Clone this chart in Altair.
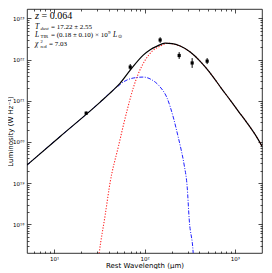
import math
import altair as alt
import pandas as pd

# ---------------- data ----------------
# total model (black solid)
tot_lam = [5.0, 11.65, 32.3, 45.0, 53.8, 69.5, 96.8, 115.6, 138, 169, 203, 249,
           321, 414, 480, 577, 706, 889, 1091, 1371, 1683, 2000]
tot_L = [2.75e19, 1.36e20, 9.3e20, 1.82e21, 2.70e21, 5.57e21, 1.29e22, 1.75e22,
         2.13e22, 2.52e22, 2.46e22, 2.14e22, 1.53e22, 9.1e21, 6.3e21, 3.78e21,
         2.04e21, 1.04e21, 5.64e20, 2.88e20, 1.5e20, 7.9e19]

# cold dust modified blackbody (red dotted)
mbb_lam = [29.9, 31.5, 36.7, 41.7, 51.2, 64.3, 75.0, 85.1, 101.8, 121.7, 149.2,
           183, 219, 249, 321, 414, 480, 577, 706, 889, 1091, 1371, 1683, 2000]
mbb_L = [7.7e16, 2.0e17, 1.67e18, 1.06e19, 7.5e19, 5.96e20, 2.04e21, 4.46e21,
         9.75e21, 1.61e22, 2.13e22, 2.50e22, 2.33e22, 2.12e22, 1.52e22, 9.1e21,
         6.3e21, 3.78e21, 2.04e21, 1.04e21, 5.64e20, 2.88e20, 1.5e20, 7.9e19]

# warm / power-law component (blue dash-dot)
pl_lam = [5.0, 11.65, 32.3, 45.0, 51.2, 58.1, 75.0, 96.8, 121.7, 149.2, 178, 208,
          236, 255, 275, 297, 313, 346, 355]
pl_L = [2.75e19, 1.36e20, 9.3e20, 1.82e21, 2.28e21, 2.85e21, 3.57e21, 3.77e21,
        3.19e21, 2.16e21, 1.16e21, 4.03e20, 1.32e20, 6.35e19, 2.75e19, 8.0e18,
        1.27e18, 2.0e17, 7.7e16]

# photometry with errors
obs_lam = [22.6, 69.5, 149, 242, 337, 494]
obs_L = [5.0e20, 6.6e21, 3.0e22, 1.26e22, 8.3e21, 9.2e21]
obs_lo = [4.6e20, 5.6e21, 2.55e22, 1.04e22, 6.3e21, 7.8e21]
obs_hi = [5.5e20, 7.8e21, 3.5e22, 1.52e22, 1.09e22, 1.09e22]

# axes
x_major = [10, 100, 1000]
x_major_labels = ["10¹", "10²", "10³"]
x_minor = [m * 10 ** e for e in (0, 1, 2) for m in range(2, 10)
           if 5 < m * 10 ** e < 2000]
y_major = [1e18, 1e19, 1e20, 1e21, 1e22, 1e23]
y_major_labels = ["10¹⁸", "10¹⁹", "10²⁰", "10²¹", "10²²", "10²³"]
y_minor = [m * 10.0 ** e for e in range(17, 23) for m in range(2, 10)
           if 2e17 < m * 10.0 ** e < 1.7e23]

x_title = "Rest Wavelength (μm)"
y_title = "Luminosity (W Hz⁻¹)"

ann_z = ["z", "= 0.064"]
ann_t = ["T", "dust", "= 17.22 ± 2.55"]
ann_l = ["L", "TIR", "= (0.18 ± 0.10) × 10", "9", "L", "⊙"]
ann_c = ["χ", "2", "red", "= 7.03"]

# ---------------- chart ----------------
SANS = "DejaVu Sans"
SERIF = "Liberation Serif"
W, H = 235, 244

xscale = alt.Scale(type="log", domain=[5, 2000], nice=False)
yscale = alt.Scale(type="log", domain=[2e17, 1.7e23], nice=False)


def label_expr(values, labels):
    parts = [f"abs(log(datum.value)/LN10 - {math.log10(v):.4f}) < 0.01 ? '{l}'"
             for v, l in zip(values, labels)]
    return " : ".join(parts) + " : ''"


def tick_axis(orient, values, size):
    return alt.Axis(orient=orient, offset=-size, values=values, ticks=True,
                    tickSize=size, tickColor="black", tickWidth=0.7,
                    labels=False, domain=False, grid=False, title="")


xlab = alt.Axis(orient="bottom", values=x_major, ticks=False, domain=False,
                grid=False, labelExpr=label_expr(x_major, x_major_labels),
                labelFont=SANS, labelFontSize=5.5, labelColor="black",
                labelPadding=3, labelFlush=False, labelOverlap=False,
                title=x_title, titleFont=SANS, titleFontSize=7,
                titleFontWeight="normal", titleColor="black",
                titleY=12, titleBaseline="middle")
ylab = alt.Axis(orient="left", values=y_major, ticks=False, domain=False,
                grid=False, labelExpr=label_expr(y_major, y_major_labels),
                labelFont=SANS, labelFontSize=5.5, labelColor="black",
                labelPadding=3, labelFlush=False, labelOverlap=False,
                title=y_title, titleFont=SANS, titleFontSize=7,
                titleFontWeight="normal", titleColor="black",
                titleX=-17, titleY=H / 2, titleAngle=270, titleAlign="center",
                titleBaseline="middle")

mbb_df = pd.DataFrame({"lam": mbb_lam, "L": mbb_L})
pl_df = pd.DataFrame({"lam": pl_lam, "L": pl_L})
tot_df = pd.DataFrame({"lam": tot_lam, "L": tot_L})
obs_df = pd.DataFrame({"lam": obs_lam, "L": obs_L, "lo": obs_lo, "hi": obs_hi})

red = alt.Chart(mbb_df).mark_line(
    color="#ff2020", strokeDash=[1.2, 1.6], strokeWidth=1.1, clip=True,
    interpolate="monotone").encode(
    x=alt.X("lam:Q", scale=xscale, axis=xlab),
    y=alt.Y("L:Q", scale=yscale, axis=ylab))

blue = alt.Chart(pl_df).mark_line(
    color="#2020ff", strokeDash=[4, 1.5, 1, 1.5], strokeWidth=1.0, clip=True,
    interpolate="monotone").encode(
    x=alt.X("lam:Q", scale=xscale, axis=tick_axis("bottom", x_major, 4)),
    y=alt.Y("L:Q", scale=yscale, axis=tick_axis("left", y_major, 4)))

black = alt.Chart(tot_df).mark_line(
    color="black", strokeWidth=1.2, clip=True, interpolate="monotone").encode(
    x=alt.X("lam:Q", scale=xscale, axis=tick_axis("bottom", x_minor, 2)),
    y=alt.Y("L:Q", scale=yscale, axis=tick_axis("left", y_minor, 2)))

errs = alt.Chart(obs_df).mark_rule(color="black", strokeWidth=1.0).encode(
    x=alt.X("lam:Q", scale=xscale, axis=tick_axis("top", x_major, 4)),
    y=alt.Y("lo:Q", scale=yscale, axis=tick_axis("right", y_major, 4)),
    y2="hi:Q")

pts = alt.Chart(obs_df).mark_point(
    shape="square", filled=True, color="black", size=10, opacity=1).encode(
    x=alt.X("lam:Q", scale=xscale, axis=tick_axis("top", x_minor, 2)),
    y=alt.Y("L:Q", scale=yscale, axis=tick_axis("right", y_minor, 2)))

one = pd.DataFrame({"k": [0]})


def txt(s, x, y, size, style="normal", font=SERIF):
    return alt.Chart(one).mark_text(
        text=s, align="left", baseline="alphabetic", font=font,
        fontSize=size, fontStyle=style, color="black").encode(
        x=alt.value(x), y=alt.value(y))


texts = [
    txt(ann_z[0], 8, 10, 10.5, "italic"),
    txt(ann_z[1], 14.5, 10, 10),
    txt(ann_t[0], 8, 19.5, 7.5, "italic"),
    txt(ann_t[1], 13.5, 21, 4.8, "italic"),
    txt(ann_t[2], 24, 19.5, 7),
    txt(ann_l[0], 8, 27.5, 7.5, "italic"),
    txt(ann_l[1], 13.5, 28.6, 4.8),
    txt(ann_l[2], 24, 27.5, 7),
    txt(ann_l[3], 81, 24.5, 5),
    txt(ann_l[4], 86, 27.5, 7.5, "italic"),
    txt(ann_l[5], 91, 29.2, 5, font="DejaVu Sans"),
    txt(ann_c[0], 8, 36.5, 7.5, "italic"),
    txt(ann_c[1], 13.5, 34, 4.5),
    txt(ann_c[2], 13.5, 38.5, 4.8),
    txt(ann_c[3], 22, 36.5, 7),
]

chart = alt.layer(red, blue, black, errs, pts, *texts).resolve_axis(
    x="independent", y="independent").properties(
    width=W, height=H,
    autosize=alt.AutoSizeParams(type="none"),
    padding={"left": 19, "top": 1, "right": 2, "bottom": 16},
).configure_view(stroke="black", strokeWidth=0.8)

chart.save("out.html", embed_options={"renderer": "svg", "actions": False})
